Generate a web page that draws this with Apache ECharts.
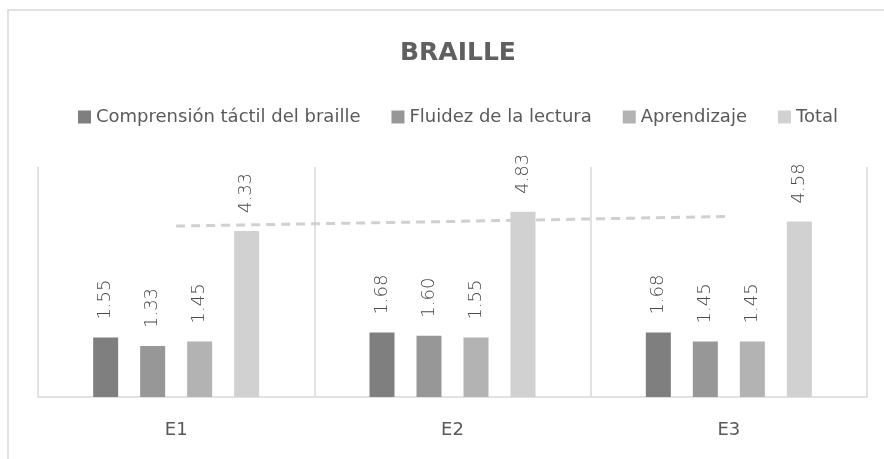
<!DOCTYPE html>
<html>
<head>
<meta charset="utf-8">
<script src="https://cdn.jsdelivr.net/npm/echarts@6/dist/echarts.min.js"></script>
<style>
html,body{margin:0;padding:0;background:#fff;}
#chart{width:884px;height:459px;}
</style>
</head>
<body>
<div id="chart"></div>
<script>
const categories = ['E1', 'E2', 'E3'];
const seriesNames = ['Comprensión táctil del braille', 'Fluidez de la lectura', 'Aprendizaje', 'Total'];
const comprension = [1.55, 1.68, 1.68];
const fluidez = [1.33, 1.60, 1.45];
const aprendizaje = [1.45, 1.55, 1.45];
const total = [4.33, 4.83, 4.58];
const trendTotal = [4.46, 4.58, 4.71];
const colors = ['#7f7f7f', '#979797', '#b3b3b3', '#d1d1d1'];

const FONT = "'DejaVu Sans', sans-serif";
const chart = echarts.init(document.getElementById('chart'));

function barSeries(name, data, color) {
  return {
    name: name,
    type: 'bar',
    data: data,
    barWidth: 25,
    barGap: '88%',
    itemStyle: { color: color },
    label: {
      show: true,
      position: 'top',
      rotate: 90,
      align: 'left',
      verticalAlign: 'middle',
      distance: 18,
      color: '#4a4a4a',
      fontFamily: FONT,
      fontWeight: 200,
      fontSize: 18,
      formatter: p => p.value.toFixed(2)
    },
    z: 2
  };
}

chart.setOption({
  animation: false,
  color: colors,
  title: {
    text: 'BRAILLE',
    left: 395,
    top: 36,
    textStyle: { fontFamily: FONT, fontSize: 25, fontWeight: 'bold', color: '#606060' }
  },
  legend: {
    data: seriesNames,
    top: 103,
    left: 73,
    itemWidth: 13,
    itemHeight: 13,
    itemGap: 31,
    icon: 'rect',
    textStyle: { fontFamily: FONT, fontSize: 18, color: '#595959' }
  },
  grid: { left: 38, right: 17, top: 167, bottom: 62 },
  xAxis: {
    type: 'category',
    data: categories,
    axisLine: { lineStyle: { color: '#d9d9d9', width: 1.5 } },
    axisTick: { show: false },
    splitLine: { show: true, lineStyle: { color: '#d9d9d9', width: 1.5 } },
    axisLabel: { fontFamily: FONT, fontSize: 18, color: '#595959', margin: 24 }
  },
  yAxis: {
    type: 'value',
    min: 0,
    max: 6,
    show: false,
    splitLine: { show: false }
  },
  graphic: [{
    type: 'rect',
    shape: { x: 8, y: 10, width: 900, height: 480 },
    style: { fill: 'none', stroke: '#d9d9d9', lineWidth: 1.5 },
    silent: true
  }],
  series: [
    barSeries(seriesNames[0], comprension, colors[0]),
    barSeries(seriesNames[1], fluidez, colors[1]),
    barSeries(seriesNames[2], aprendizaje, colors[2]),
    barSeries(seriesNames[3], total, colors[3]),
    {
      name: 'Tendencia',
      type: 'line',
      data: trendTotal,
      symbol: 'none',
      lineStyle: { color: '#d0d0d0', width: 3, type: [9, 6] },
      z: 3
    }
  ]
});
</script>
</body>
</html>
